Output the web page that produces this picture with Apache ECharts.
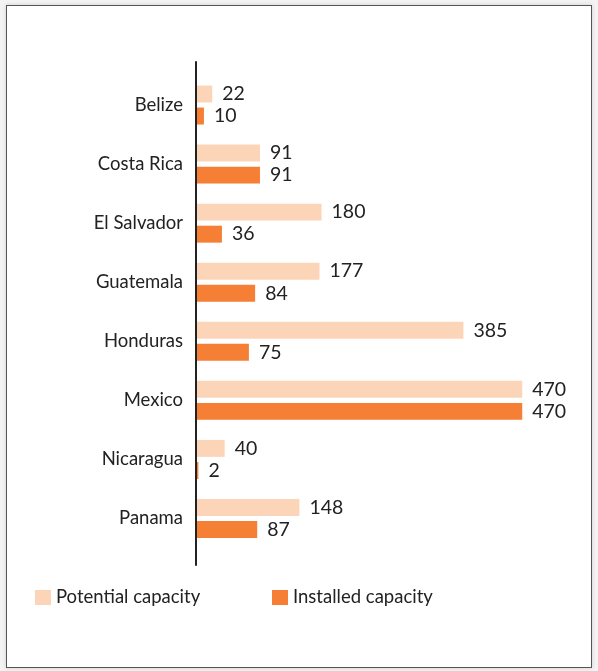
<!DOCTYPE html>
<html>
<head>
<meta charset="utf-8">
<script src="https://cdn.jsdelivr.net/npm/echarts@6/dist/echarts.min.js"></script>
<style>
  html, body { margin: 0; padding: 0; background: #f3f3f3; }
  #frame {
    position: absolute; left: 6px; top: 5px; width: 584px; height: 661px;
    border: 1.5px solid #555; background: #fff;
    box-shadow: 0 0 4px rgba(0,0,0,0.15);
  }
  #chart { position: absolute; left: 0; top: 0; width: 598px; height: 671px; }
</style>
</head>
<body>
<div id="frame"></div>
<div id="chart"></div>
<script>
// data
const countries = ['Belize', 'Costa Rica', 'El Salvador', 'Guatemala', 'Honduras', 'Mexico', 'Nicaragua', 'Panama'];
const potential = [22, 91, 180, 177, 385, 470, 40, 148];
const installed = [10, 91, 36, 84, 75, 470, 2, 87];
const seriesNames = ['Potential capacity', 'Installed capacity'];

const FONT = 'Lato, "Open Sans", sans-serif';
const chart = echarts.init(document.getElementById('chart'), null, { renderer: 'canvas' });

const labelStyle = {
    show: true,
    position: 'right',
    distance: 10,
    fontSize: 19.5,
    color: '#222',
    fontFamily: FONT
};

chart.setOption({
    animation: false,
    color: ['#fcd5b8', '#f47f35'],
    textStyle: { fontFamily: FONT },
    legend: [{
        data: [seriesNames[0]],
        left: 30,
        top: 583,
        itemWidth: 16,
        itemHeight: 15,
        itemGap: 10,
        icon: 'rect',
        textStyle: { fontSize: 18.5, color: '#222', fontFamily: FONT }
    }, {
        data: [seriesNames[1]],
        left: 267,
        top: 583,
        itemWidth: 16,
        itemHeight: 15,
        icon: 'rect',
        textStyle: { fontSize: 18.5, color: '#222', fontFamily: FONT }
    }],
    grid: [
        { left: 197, top: 75.5, width: 346, height: 472.5 },
        // only used for the long vertical axis line
        { left: 196, top: 62, width: 346, height: 503 }
    ],
    xAxis: [{
        type: 'value',
        gridIndex: 0,
        min: 0,
        max: 500,
        show: false
    }, {
        type: 'value',
        gridIndex: 1,
        show: false
    }],
    yAxis: [{
        type: 'category',
        gridIndex: 0,
        data: countries,
        inverse: true,
        axisLine: { show: false },
        axisTick: { show: false },
        axisLabel: { fontSize: 18.5, color: '#222', margin: 14, fontFamily: FONT }
    }, {
        type: 'value',
        gridIndex: 1,
        axisLine: { show: true, lineStyle: { color: '#222', width: 2 } },
        axisTick: { show: false },
        axisLabel: { show: false },
        splitLine: { show: false }
    }],
    series: [{
        name: seriesNames[0],
        type: 'bar',
        data: potential,
        barCategoryGap: '34%',
        barGap: '30%',
        label: labelStyle
    }, {
        name: seriesNames[1],
        type: 'bar',
        data: installed,
        barCategoryGap: '34%',
        barGap: '30%',
        label: labelStyle
    }]
});
</script>
</body>
</html>
